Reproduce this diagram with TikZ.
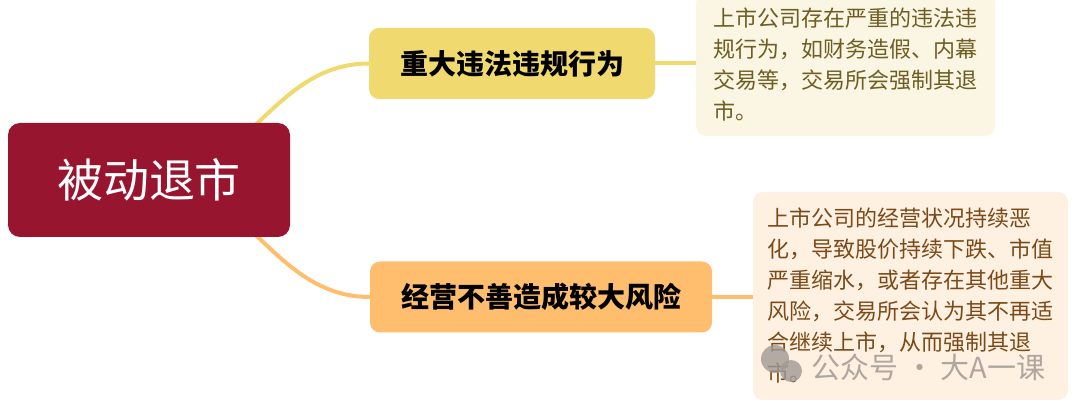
\documentclass[tikz,border=0pt]{standalone}
\usepackage{fontspec}
\newfontfamily\cjk{Noto Sans CJK SC}
\usetikzlibrary{backgrounds}
\definecolor{rootred}{HTML}{981530}
\definecolor{yel}{HTML}{F0D96E}
\definecolor{ora}{HTML}{FFBE6E}
\definecolor{ydesc}{HTML}{FBF5E3}
\definecolor{odesc}{HTML}{FFF1E1}
\definecolor{ytext}{HTML}{6E5E22}
\definecolor{otext}{HTML}{7A4A1A}
\definecolor{wmgray}{HTML}{A09A94}
\tikzset{
  rootbox/.style={fill=rootred, text=white, rounded corners=12pt, minimum width=282pt, minimum height=114pt, inner sep=0pt, font=\cjk\fontsize{46}{50}\selectfont},
  topicbox/.style={rounded corners=10pt, minimum height=71pt, inner sep=0pt, text=black, font=\cjk\bfseries\fontsize{28}{32}\selectfont},
  descbox/.style={rounded corners=10pt, inner xsep=11pt, inner ysep=0pt, align=left, font=\cjk\fontsize{22}{31}\selectfont},
  link/.style={line width=4pt},
  wmicon/.style={fill=wmgray, fill opacity=0.8},
}
\begin{document}
\begin{tikzpicture}[x=1pt,y=-1pt]
\useasboundingbox (0,0) rectangle (1080,411);
\node[rootbox] (root) at (149,180) {被动退市};
\node[topicbox, fill=yel, minimum width=286pt] (top) at (512,63.5) {重大违法违规行为};
\node[topicbox, fill=ora, minimum width=342pt] (bot) at (541,297) {经营不善造成较大风险};
\node[descbox, fill=ydesc, text=ytext, minimum width=299pt, minimum height=142pt] (topdesc) at (845.5,65)
  {上市公司存在严重的违法违\\规行为，如财务造假、内幕\\交易等，交易所会强制其退\\市。};
\node[descbox, fill=odesc, text=otext, minimum width=315pt, minimum height=208pt] (botdesc) at (910.5,296)
  {上市公司的经营状况持续恶\\化，导致股价持续下跌、市值\\严重缩水，或者存在其他重大\\风险，交易所会认为其不再适\\合继续上市，从而强制其退\\市。};
\node[font=\cjk\fontsize{29}{32}\selectfont, text=wmgray, opacity=0.85, anchor=west] (wm) at (808,367) {公众号 · 大A一课};
\path[wmicon] (775,359) circle [radius=14];
\path[wmicon] (791,371) circle [radius=11];
\begin{scope}[on background layer]
\draw[link, yel] (root.center) to[out=0,in=180] (top.west);
\draw[link, ora] (root.center) to[out=0,in=180] (bot.west);
\draw[link, yel] (top.east) -- (top.east -| topdesc.west);
\draw[link, ora] (bot.east) -- (bot.east -| botdesc.west);
\end{scope}
\end{tikzpicture}
\end{document}
